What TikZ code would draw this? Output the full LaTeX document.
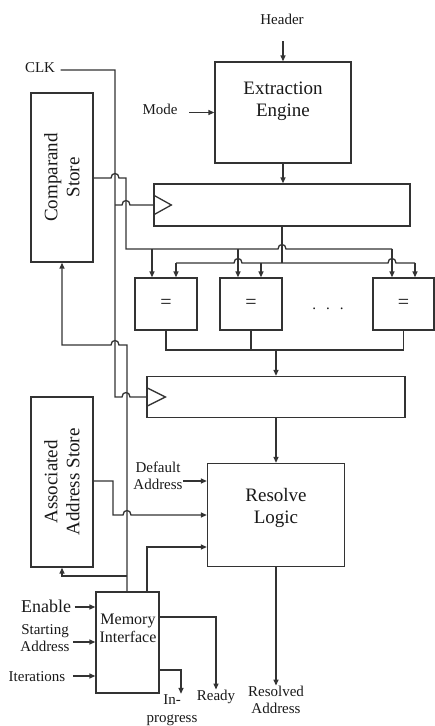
\documentclass[tikz,border=0pt]{standalone}
\usepackage{fontspec}
\setmainfont{Liberation Serif}
\usetikzlibrary{arrows.meta,positioning}

% small jump of a horizontal line over a vertical one (drawn left to right)
\newcommand\hump[2]{-- (#1-4,#2) .. controls (#1-4,#2-6) and (#1+4,#2-6) .. (#1+4,#2)}

\begin{document}
\begin{tikzpicture}[x=1pt, y=-1pt, line width=1.3pt, color=black!80,
    blk/.style={draw, fill=white, inner sep=0pt},
    lbl/.style={font=\fontsize{15}{17}\selectfont, align=center, inner sep=0pt, text=black!90},
    big/.style={font=\fontsize{19}{22}\selectfont, align=center, inner sep=0pt, text=black!90},
    eqbox/.style={blk, minimum width=62, minimum height=52, font=\fontsize{20}{20}\selectfont, text=black!90},
    tip/.style={-{Triangle[length=6pt,width=5pt]}},
    backtip/.style={{Triangle[length=6pt,width=5pt]}-}]
\useasboundingbox (0,0) rectangle (435,726);

%%%%% blocks %%%%%
\node[blk, minimum width=136, minimum height=101] (ee) at (283,112.5) {};
\node[big] (eetxt) at (283,101) {Extraction\\Engine};
\node[blk, minimum width=62, minimum height=169] (cs) at (62,177.5) {};
\node[big, rotate=90] (cstxt) at (cs.center) {Comparand\\Store};
\node[blk, minimum width=62, minimum height=170] (aas) at (62,482) {};
\node[big, rotate=90] (aastxt) at (aas.center) {Associated\\Address Store};
\node[blk, minimum width=256, minimum height=42] (reg1) at (282,205) {};
\node[blk, minimum width=258, minimum height=41] (reg2) at (276,397) {};
\node[eqbox] (eq1) at (166,304) {=};
\node[eqbox] (eq2) at (251,304) {=};
\node[eqbox, minimum width=61] (eq3) at (403.5,304) {=};
\node[lbl] (dots) at (328,309) {.\hspace{10pt}.\hspace{10pt}.};
\node[blk, minimum width=137, minimum height=103] (rl) at (276,515) {};
\node[big] (rltxt) at (276,508) {Resolve\\Logic};
\node[blk, minimum width=63, minimum height=101] (mi) at (127.5,642.5) {};
\node[lbl, font=\fontsize{16}{18}\selectfont] (mitxt) at (128,628) {Memory\\Interface};

%%%%% labels %%%%%
\node[lbl] (hdr) at (282,19) {Header};
\node[lbl] (mode) at (160,109) {Mode};
\node[lbl] (clk) at (40,67.5) {CLK};
\node[lbl] (dflt) at (158,476) {Default\\Address};
\node[lbl, font=\fontsize{18}{20}\selectfont] (en) at (46,606) {Enable};
\node[lbl] (sa) at (45,638) {Starting\\Address};
\node[lbl] (it) at (37,677) {Iterations};
\node[lbl, font=\fontsize{15}{18}\selectfont] (inp) at (172,710) {In-\\progress};
\node[lbl] (rdy) at (216,697) {Ready};
\node[lbl] (radr) at (276,700) {Resolved\\Address};

%%%%% extraction engine %%%%%
\draw[tip] (ee.north) ++(0,-20) -- (ee.north);
\draw[tip] (ee.west) ++(-25,0) -- (ee.west);
\draw[tip] (ee.south) -- (ee.south |- reg1.north);

%%%%% clock %%%%%
\draw (clk.east |- 0,70) ++(5,0) -- (115,70) -- (115,397) \hump{126}{397} -- (reg2.west);
\draw (115,205) \hump{126}{205} -- (reg1.west);
\draw (reg1.west) ++(0,-10) -- ++(18,10) -- ++(-18,10);
\draw (reg2.west) ++(0,-9.5) -- ++(19,9.5) -- ++(-19,9.5);

%%%%% comparand and register 1 into the comparators %%%%%
\draw (cs.east |- 0,178) \hump{115}{178} -- (126,178) -- (126,249) \hump{282}{249} -- (392,249);
\foreach \xi/\bx in {152/eq1, 238/eq2, 392/eq3}
  \draw[tip] (\xi,249) -- (\xi,0 |- \bx.north);
\draw (reg1.south) -- (282,263);
\draw (176,263) \hump{238}{263} \hump{392}{263} -- (415,263);
\foreach \xi/\bx in {176/eq1, 261/eq2, 415/eq3}
  \draw[tip] (\xi,263) -- (\xi,0 |- \bx.north);

%%%%% comparators to resolve logic %%%%%
\draw (eq1.south) -- (eq1.south |- 0,350) -- (eq3.south |- 0,350) -- (eq3.south);
\draw (eq2.south) -- (eq2.south |- 0,350);
\draw[tip] (reg2.north |- 0,350) -- (reg2.north);
\draw[tip] (reg2.south) -- (rl.north);
\draw[tip] (rl.south) -- (radr.north);

%%%%% memory interface %%%%%
\draw[backtip] (cs.south) -- (62,345) \hump{115}{345} -- (127,345) -- (127,0 |- mi.north);
\draw[backtip] (aas.south) -- (62,576) -- (127,576);
\draw[tip] (147,0 |- mi.north) |- (rl.west |- 0,547);
\draw[tip] (aas.east |- 0,481) -- (113,481) -- (113,515) \hump{127}{515} -- (rl.west);
\draw[tip] (dflt.east |- 0,481) -- (rl.west |- 0,481);
\draw[tip] (en.east) ++(3,1) -- (mi.west |- 0,607);
\draw[tip] (sa.east |- 0,642) ++(3,0) -- (mi.west |- 0,642);
\draw[tip] (it.east) ++(7,-1) -- (mi.west |- 0,676);
\draw[tip] (mi.east |- 0,617) -| (rdy.north);
\draw[tip] (mi.east |- 0,670) -| (181,0 |- inp.north);
\end{tikzpicture}
\end{document}
